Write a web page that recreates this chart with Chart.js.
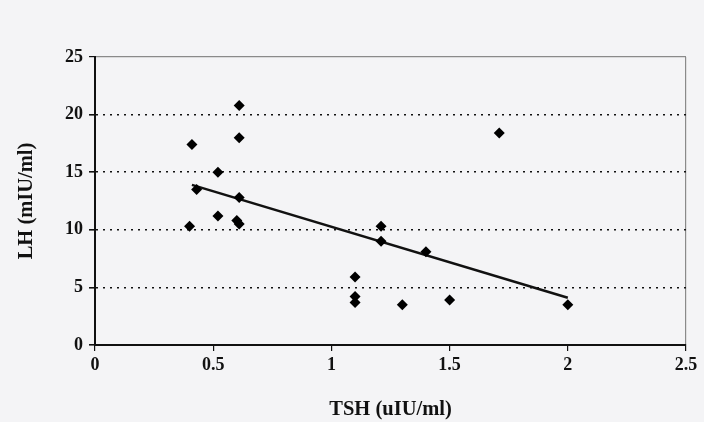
<!DOCTYPE html>
<html>
<head>
<meta charset="UTF-8">
<script src="https://cdn.jsdelivr.net/npm/chart.js"></script>
<style>
  body { margin: 0; background: #f4f4f6; }
  #wrap { width: 704px; height: 422px; }
</style>
</head>
<body>
<div id="wrap"><canvas id="myChart" width="704" height="422"></canvas></div>
<script>
// TSH vs LH readings
const tsh = [0.41, 0.40, 0.43, 0.52, 0.52, 0.61, 0.61, 0.61, 0.60, 0.61, 1.10, 1.10, 1.10, 1.30, 1.21, 1.21, 1.40, 1.71, 1.50, 2.00];
const lh  = [17.4, 10.3, 13.5, 15.0, 11.2, 20.8, 18.0, 12.8, 10.8, 10.5, 5.9, 4.2, 3.7, 3.5, 10.3, 9.0, 8.1, 18.4, 3.9, 3.5];

// linear trend line ends
const trendX = [0.41, 2.0];
const trendY = [13.9, 4.1];

const xTicks = [0, 0.5, 1, 1.5, 2, 2.5];
const yTicks = [0, 5, 10, 15, 20, 25];

const font = { family: 'Liberation Serif', weight: 'bold', size: 18 };
const titleFont = { family: 'Liberation Serif', weight: 'bold', size: 20.5 };

const config = {
    type: 'scatter',
    data: {
        datasets: [{
            data: tsh.map((v, i) => ({ x: v, y: lh[i] })),
            pointStyle: 'rectRot',
            pointRadius: 5.5,
            backgroundColor: '#000',
            borderColor: '#000',
            borderWidth: 0
        }, {
            data: trendX.map((v, i) => ({ x: v, y: trendY[i] })),
            showLine: true,
            pointRadius: 0,
            borderColor: '#111',
            borderWidth: 2.5
        }]
    },
    options: {
        responsive: false,
        animation: false,
        layout: { padding: { left: 0, top: 57, right: 18, bottom: 0 } },
        plugins: { legend: { display: false }, tooltip: { enabled: false } },
        scales: {
            x: {
                type: 'linear',
                min: 0, max: 2.5,
                afterBuildTicks: s => { s.ticks = xTicks.map(v => ({ value: v })); },
                afterFit: s => { s.height = 77; },
                ticks: { font: font, color: '#111', padding: 4, callback: v => String(v) },
                grid: {
                    color: c => c.tick && c.tick.value === 2.5 ? '#8a8a8a' : 'transparent',
                    tickColor: '#111',
                    tickLength: 6,
                    lineWidth: 1.2
                },
                border: { color: '#111', width: 2 },
                title: {
                    display: true,
                    text: 'TSH (uIU/ml)',
                    font: titleFont,
                    color: '#111',
                    padding: { top: 6, bottom: 0 }
                }
            },
            y: {
                min: 0, max: 25,
                afterBuildTicks: s => { s.ticks = yTicks.map(v => ({ value: v })); },
                afterFit: s => { s.width = 95; },
                ticks: { font: font, color: '#111', padding: 6 },
                grid: {
                    color: c => c.tick && c.tick.value === 25 ? '#8a8a8a' : '#111',
                    tickColor: '#111',
                    tickLength: 6,
                    lineWidth: c => c.tick && c.tick.value === 25 ? 1.2 : 1.6
                },
                border: {
                    color: '#111',
                    width: 2,
                    dash: c => (c.tick && c.tick.value > 0 && c.tick.value < 25) ? [2, 5] : []
                },
                title: {
                    display: true,
                    text: 'LH (mIU/ml)',
                    font: titleFont,
                    color: '#111',
                    padding: { top: 14, bottom: 0 }
                }
            }
        }
    }
};

const myChart = new Chart(document.getElementById('myChart'), config);
</script>
</body>
</html>
